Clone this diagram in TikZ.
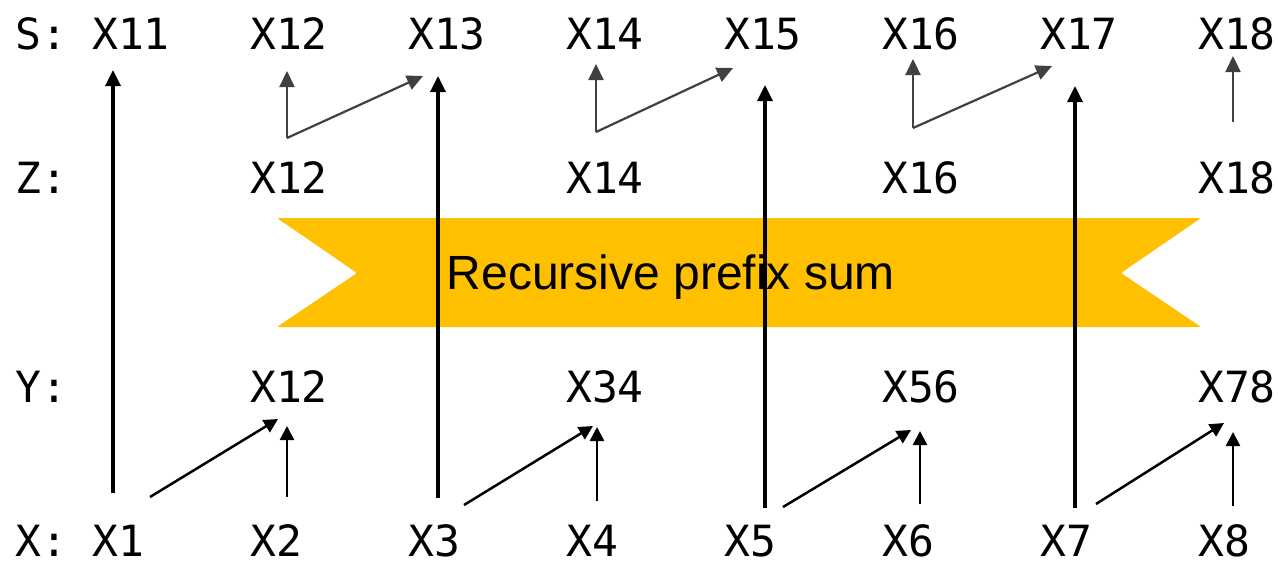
\documentclass[tikz,border=0pt]{standalone}
\usepackage{fontspec}
\setmonofont{DejaVu Sans Mono}
\newfontfamily\bannerfont{Liberation Sans}
\usetikzlibrary{arrows.meta}
\definecolor{banneryellow}{HTML}{FFC000}
\definecolor{darkgrayarrow}{HTML}{404040}
\begin{document}
\begin{tikzpicture}[x=1pt,y=-1pt,
  lbl/.style={anchor=base west,inner sep=0pt,text depth=0pt,font=\ttfamily\fontsize{43}{50}\selectfont},
  longarrow/.style={line width=3.4pt,-{Triangle[length=16pt,width=15pt]}},
  yarrow/.style={line width=2.5pt,-{Triangle[length=14pt,width=14pt]}},
  sarrow/.style={line width=2.2pt,darkgrayarrow,-{Triangle[length=16pt,width=15pt]}},
  banner/.style={fill=banneryellow,rounded corners=2pt}]
\useasboundingbox (0,0) rectangle (1278,566);
% banner
\fill[banner] (277,218) -- (1201,218) -- (1121,273) -- (1201,327) -- (277,327) -- (357,273) -- cycle;
\node[anchor=base,inner sep=0pt,font=\bannerfont\fontsize{48}{55}\selectfont] (rps) at (671,289) {Recursive prefix sum};
% row labels
\node[lbl] (lS) at (15,49) {S:};
\node[lbl] (lZ) at (15,193) {Z:};
\node[lbl] (lY) at (15,402) {Y:};
\node[lbl] (lX) at (15,556) {X:};
% S row
\node[lbl] (s1) at (92,49) {X11};
\node[lbl] (s2) at (250,49) {X12};
\node[lbl] (s3) at (408,49) {X13};
\node[lbl] (s4) at (566,49) {X14};
\node[lbl] (s5) at (724,49) {X15};
\node[lbl] (s6) at (882,49) {X16};
\node[lbl] (s7) at (1040,49) {X17};
\node[lbl] (s8) at (1198,49) {X18};
% Z row
\node[lbl] (z2) at (250,193) {X12};
\node[lbl] (z4) at (566,193) {X14};
\node[lbl] (z6) at (882,193) {X16};
\node[lbl] (z8) at (1198,193) {X18};
% Y row
\node[lbl] (y2) at (250,402) {X12};
\node[lbl] (y4) at (566,402) {X34};
\node[lbl] (y6) at (882,402) {X56};
\node[lbl] (y8) at (1198,402) {X78};
% X row
\node[lbl] (x1) at (92,556) {X1};
\node[lbl] (x2) at (250,556) {X2};
\node[lbl] (x3) at (408,556) {X3};
\node[lbl] (x4) at (566,556) {X4};
\node[lbl] (x5) at (724,556) {X5};
\node[lbl] (x6) at (882,556) {X6};
\node[lbl] (x7) at (1040,556) {X7};
\node[lbl] (x8) at (1198,556) {X8};
% coordinates for arrow ends
\coordinate (l1a) at (113,493); \coordinate (l1b) at (113,70);
\coordinate (l3a) at (438,498); \coordinate (l3b) at (438,76);
\coordinate (l5a) at (765,508); \coordinate (l5b) at (765,85);
\coordinate (l7a) at (1075,508); \coordinate (l7b) at (1075,86);
% Y row arrows
\coordinate (d1a) at (150,497); \coordinate (d1b) at (278,419);
\coordinate (v2a) at (287,497); \coordinate (v2b) at (287,426);
\coordinate (d3a) at (464,505); \coordinate (d3b) at (593,426);
\coordinate (v4a) at (597,501); \coordinate (v4b) at (597,427);
\coordinate (d5a) at (783,507); \coordinate (d5b) at (911,430);
\coordinate (v6a) at (920,504); \coordinate (v6b) at (920,431);
\coordinate (d7a) at (1096,504); \coordinate (d7b) at (1224,423);
\coordinate (v8a) at (1233,506); \coordinate (v8b) at (1233,432);
% S row arrows
\coordinate (sz2) at (287,138); \coordinate (su2) at (287,71); \coordinate (sd2) at (423,76);
\coordinate (sz4) at (596,132); \coordinate (su4) at (596,64); \coordinate (sd4) at (733,68);
\coordinate (sz6) at (913,128); \coordinate (su6) at (913,59); \coordinate (sd6) at (1052,66);
\coordinate (sz8) at (1233,122); \coordinate (su8) at (1233,56);
% draw
\draw[longarrow] (l1a) -- (l1b);
\draw[longarrow] (l3a) -- (l3b);
\draw[longarrow] (l5a) -- (l5b);
\draw[longarrow] (l7a) -- (l7b);
\draw[yarrow] (d1a) -- (d1b);
\draw[yarrow] (v2a) -- (v2b);
\draw[yarrow] (d3a) -- (d3b);
\draw[yarrow] (v4a) -- (v4b);
\draw[yarrow] (d5a) -- (d5b);
\draw[yarrow] (v6a) -- (v6b);
\draw[yarrow] (d7a) -- (d7b);
\draw[yarrow] (v8a) -- (v8b);
\draw[sarrow] (sz2) -- (su2);
\draw[sarrow] (sz2) -- (sd2);
\draw[sarrow] (sz4) -- (su4);
\draw[sarrow] (sz4) -- (sd4);
\draw[sarrow] (sz6) -- (su6);
\draw[sarrow] (sz6) -- (sd6);
\draw[sarrow] (sz8) -- (su8);
\end{tikzpicture}
\end{document}
